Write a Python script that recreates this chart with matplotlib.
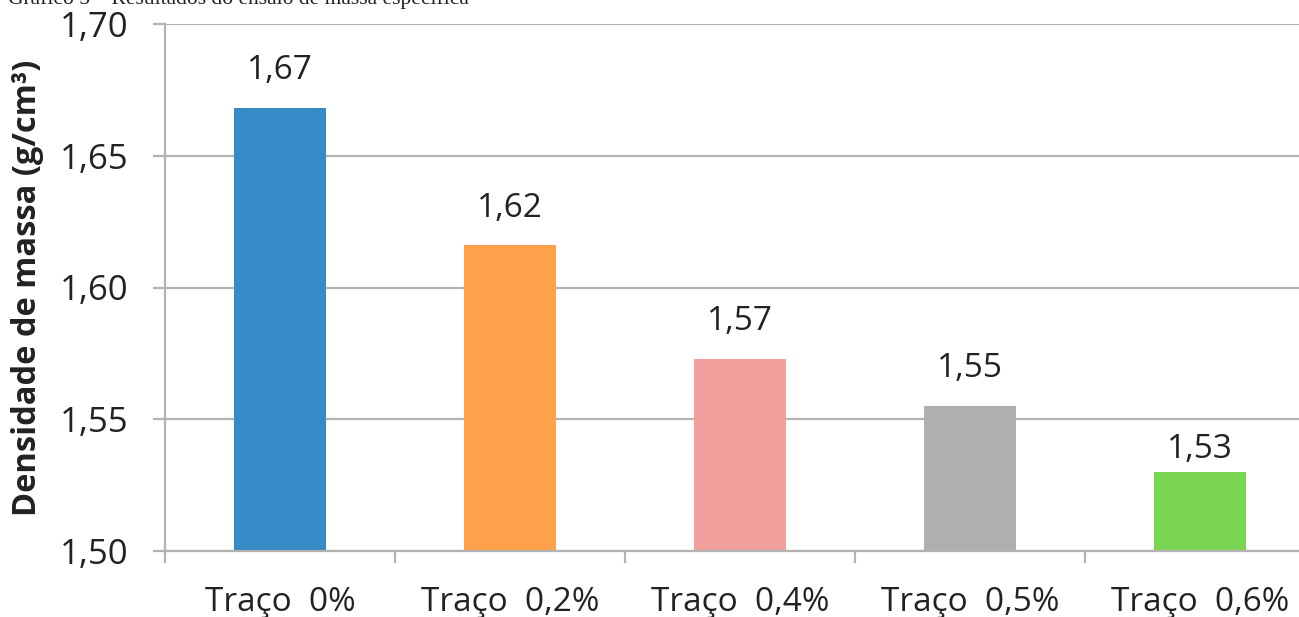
import matplotlib.pyplot as plt
from matplotlib.ticker import FixedLocator, FuncFormatter

categories = ["Traço  0%", "Traço  0,2%", "Traço  0,4%", "Traço  0,5%", "Traço  0,6%"]
densities = [1.668, 1.616, 1.573, 1.555, 1.530]
bar_colors = ["#368AC6", "#FFA04A", "#F09F9C", "#AFAFAF", "#7AD651"]
y_ticks = [1.50, 1.55, 1.60, 1.65, 1.70]

title = "Gráfico 5 – Resultados do ensaio de massa específica"
y_label = "Densidade de massa (g/cm³)"

# gap between bar top and its value label, in points
label_gap = [15, 15, 15, 15, 4]

W, H = 1299, 617
fig = plt.figure(figsize=(W / 100, H / 100), dpi=100)
fig.patch.set_facecolor("white")

# plot area runs past the right edge of the canvas
ax = fig.add_axes([165 / W, (H - 551) / H, 1150 / W, 527 / H])

x = list(range(len(categories)))
ax.bar(x, densities, width=0.40, color=bar_colors, zorder=3, linewidth=0)
ax.set_ylim(1.50, 1.70)
ax.set_xlim(-0.5, len(categories) - 0.5)

grid_color = "#B3B3B3"
text_color = "#222222"
ax.yaxis.set_major_locator(FixedLocator(y_ticks))
ax.yaxis.set_major_formatter(FuncFormatter(lambda v, p: f"{v:.2f}".replace(".", ",")))
ax.grid(axis="y", color=grid_color, linewidth=1.6, zorder=0)
ax.grid(axis="x", visible=False)

for side in ("top", "right"):
    ax.spines[side].set_visible(False)
for side in ("left", "bottom"):
    ax.spines[side].set_color(grid_color)
    ax.spines[side].set_linewidth(1.6)
    ax.spines[side].set_zorder(4)

# category ticks sit on the boundaries between groups
ax.set_xticks([i - 0.5 for i in range(len(categories) + 1)])
ax.set_xticklabels([])
ax.set_xticks(x, minor=True)
ax.set_xticklabels(categories, minor=True)
ax.tick_params(axis="x", which="major", direction="out", length=8.5,
               width=1.6, color=grid_color)
ax.tick_params(axis="x", which="minor", length=0, pad=25,
               labelsize=24, labelcolor=text_color)
ax.tick_params(axis="y", direction="out", length=9, width=1.6,
               color=grid_color, labelsize=25, labelcolor=text_color, pad=17)
for lbl in ax.get_xticklabels(minor=True) + ax.get_yticklabels():
    lbl.set_fontfamily("Open Sans")

ax.set_ylabel(y_label, fontsize=23.5, fontweight="bold", fontfamily="Open Sans",
              color=text_color, labelpad=12)

for xi, val, gap in zip(x, densities, label_gap):
    ax.annotate(f"{val:.2f}".replace(".", ","), (xi, val),
                xytext=(0, gap), textcoords="offset points",
                ha="center", va="bottom", fontsize=24,
                fontfamily="Open Sans", color=text_color)

fig.text(8 / W, 1 - 4 / H, title, fontsize=15.5, fontfamily="Liberation Serif",
         ha="left", va="baseline", color="#222222")

fig.savefig("out.png", dpi=100)
